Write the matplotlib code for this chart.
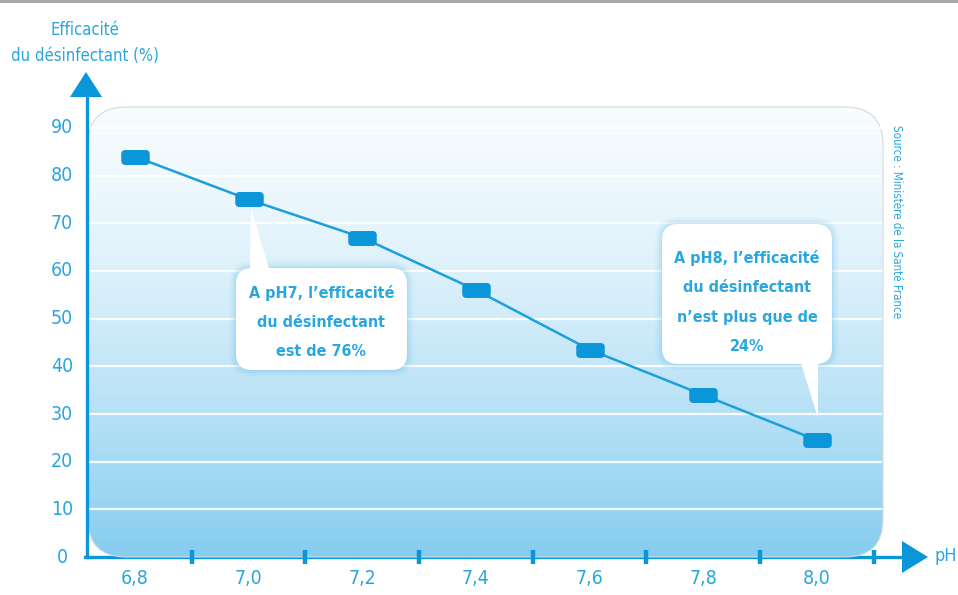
import matplotlib.pyplot as plt
import matplotlib.transforms as mtransforms
from matplotlib.patches import FancyBboxPatch, Polygon
from matplotlib.patches import BoxStyle
import numpy as np

# data
ph = [6.8, 7.0, 7.2, 7.4, 7.6, 7.8, 8.0]
efficacite = [84, 75, 67, 56, 43.5, 34, 24.5]
ph_labels = ['6,8', '7,0', '7,2', '7,4', '7,6', '7,8', '8,0']
ph_minor = [6.9, 7.1, 7.3, 7.5, 7.7, 7.9, 8.1]
y_ticks = [0, 10, 20, 30, 40, 50, 60, 70, 80, 90]
grid_vals = [10, 20, 30, 40, 50, 60, 70, 80, 90]

FONT = ['DejaVu Sans']
STRETCH = 'condensed'
TXT = '#2aa6de'
DARK = '#0a96d8'
LINE = '#1e9fdc'

W, H = 958, 595
fig = plt.figure(figsize=(W / 100, H / 100), dpi=100)
ax = fig.add_axes([0, 0, 1, 1])
ax.set_xlim(6.5625, 8.2482)
ax.set_ylim(-7.97, 116.85)
ax.axis('off')

# pixel transform (origin top-left) for decoration
T = mtransforms.Affine2D().scale(1 / W, -1 / H).translate(0, 1) + fig.transFigure

# top border
ax.add_patch(plt.Rectangle((0, 0), W, 2.5, transform=T, color='#a8a8a8', lw=0))

# x axis line + arrow
ax.plot([85, 905], [557, 557], transform=T, color=DARK, lw=2.4, zorder=1)
ax.add_patch(Polygon([[902, 541], [928, 557], [902, 573]], closed=True,
                     transform=T, color=DARK, lw=0, zorder=1))
ax.text(935, 556, 'pH', transform=T, ha='left', va='center', fontsize=13,
        color=TXT, family=FONT, stretch=STRETCH)

# background panel with gradient
panel = FancyBboxPatch((88, 107), 795, 450, boxstyle='round,pad=0,rounding_size=38',
                       transform=T, facecolor='none', edgecolor='#d5dadd', lw=0.8, zorder=3)
ax.add_patch(panel)
grad = np.linspace(0, 1, 256).reshape(-1, 1)
top = np.array([0xfa, 0xfd, 0xff]) / 255
bot = np.array([0x86, 0xcd, 0xef]) / 255
img = top + (bot - top) * grad[..., None] ** 1.5
im = ax.imshow(img, extent=(6.5625, 8.2482, 0, 90 + 10 * 50 / 47.67), aspect='auto',
               origin='upper', zorder=2)
clip = FancyBboxPatch((88, 107), 795, 450, boxstyle='round,pad=0,rounding_size=38',
                      transform=T)
im.set_clip_path(clip)

# white grid lines
x0 = 6.5625 + 90 / 568.3
x1 = 6.5625 + 881 / 568.3
for g in grid_vals:
    ax.plot([x0, x1], [g, g], color='white', lw=1.6, zorder=3, alpha=0.9)

# y axis + arrow
xa = 6.5625 + 87 / 568.3
ax.plot([87, 87], [557, 96], transform=T, color=DARK, lw=2.4, zorder=4)
ax.add_patch(Polygon([[70, 97], [86, 72], [102, 97]], closed=True,
                     transform=T, color=DARK, lw=0, zorder=4))

# minor tick marks on x axis
ax.plot(ph_minor, [0] * len(ph_minor), ls='none', marker='|', ms=10,
        mew=3.2, color=DARK, zorder=5)

# tick labels
for v in y_ticks:
    ax.text(xa - 25 / 568.3, v, str(v), ha='center', va='center', fontsize=14,
            color=TXT, family=FONT, stretch=STRETCH)
for p, lab in zip(ph, ph_labels):
    ax.text(p, -4.5, lab, ha='center', va='center', fontsize=14,
            color=TXT, family=FONT, stretch=STRETCH)

ax.text(85, 43, 'Efficacité\ndu désinfectant (%)', transform=T, ha='center',
        va='center', fontsize=12, color=TXT, family=FONT, stretch=STRETCH,
        linespacing=1.6)

ax.text(897, 125, 'Source : Ministère de la Santé France', transform=T,
        rotation=-90, ha='center', va='top', fontsize=8.3, color=TXT, family=FONT,
        stretch=STRETCH)

# data line with rounded rectangular markers
mk = BoxStyle('round', pad=0, rounding_size=0.25)(-1, -0.5, 2, 1, 1.0)
ax.plot(ph, efficacite, color=LINE, lw=1.8, zorder=6)
ax.plot(ph, efficacite, ls='none', marker=mk, ms=19.5, color=DARK, mec=DARK,
        zorder=7)


def callout(x, y, w, h, tail, text, cy):
    for i, a in enumerate([0.04, 0.06, 0.08, 0.1]):
        pad = 7 - 2 * i
        ax.add_patch(FancyBboxPatch((x - pad, y - pad), w + 2 * pad, h + 2 * pad,
                                    boxstyle='round,pad=0,rounding_size=%d' % (16 + pad),
                                    transform=T, facecolor='#3aa8e0', edgecolor='none',
                                    alpha=a, zorder=8))
    ax.add_patch(Polygon(tail, closed=True, transform=T, facecolor='white',
                         edgecolor='none', zorder=9))
    ax.add_patch(FancyBboxPatch((x, y), w, h, boxstyle='round,pad=0,rounding_size=16',
                                transform=T, facecolor='white', edgecolor='none',
                                zorder=9))
    ax.text(x + w / 2, cy, text, transform=T, ha='center', va='center',
            fontsize=11.5, fontweight='bold', color=TXT, family=FONT,
            stretch=STRETCH, linespacing=2.2, zorder=10)


callout(236, 268, 171, 102, [[250, 272], [251, 208], [270, 272]],
        'A pH7, l\u2019efficacité\ndu désinfectant\nest de 76%', 322)
callout(662, 224, 170, 140, [[800, 360], [818, 418], [818, 360]],
        'A pH8, l\u2019efficacité\ndu désinfectant\nn\u2019est plus que de\n24%', 302)

plt.savefig('out.png', dpi=100)
